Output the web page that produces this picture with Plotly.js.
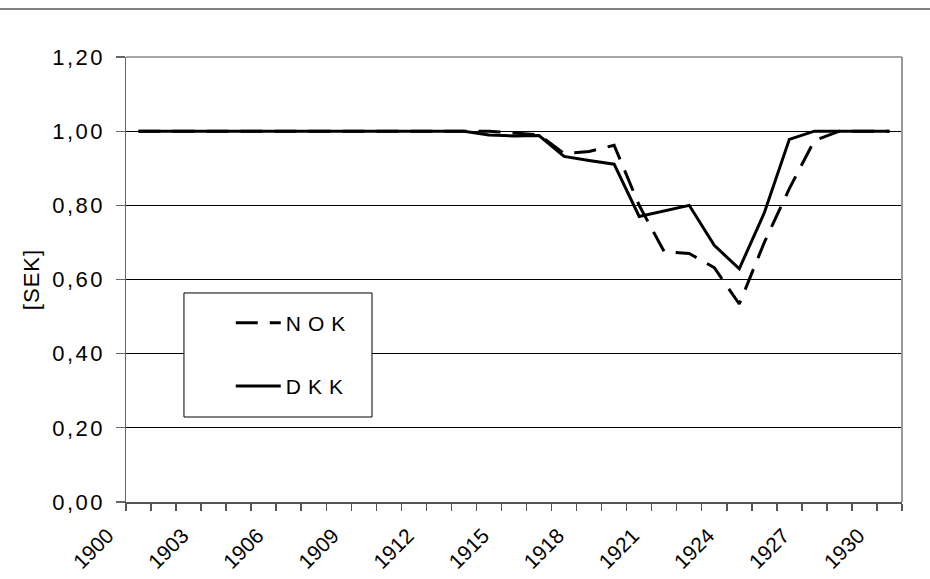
<!DOCTYPE html>
<html><head><meta charset="utf-8">
<script src="https://cdn.plot.ly/plotly-3.0.1.min.js"></script>
<style>
html,body{margin:0;padding:0;background:#fff;}
#chart{width:930px;height:579px;}
.ytick text{letter-spacing:2.5px;}
.legendtext{letter-spacing:7px;}
.g-ytitle text{letter-spacing:1px;}
</style></head><body><div id="chart"></div>
<script>
const years = [1900,1901,1902,1903,1904,1905,1906,1907,1908,1909,1910,1911,1912,1913,1914,1915,1916,1917,1918,1919,1920,1921,1922,1923,1924,1925,1926,1927,1928,1929,1930];
const nok = [1.00,1.00,1.00,1.00,1.00,1.00,1.00,1.00,1.00,1.00,1.00,1.00,1.00,1.00,1.00,0.995,0.99,0.94,0.945,0.962,0.80,0.675,0.67,0.632,0.534,0.70,0.845,0.975,1.00,1.00,1.00];
const dkk = [1.00,1.00,1.00,1.00,1.00,1.00,1.00,1.00,1.00,1.00,1.00,1.00,1.00,1.00,0.99,0.987,0.988,0.932,0.921,0.911,0.77,0.786,0.80,0.692,0.629,0.78,0.978,1.00,1.00,1.00,1.00];
const tickYears = [1900,1903,1906,1909,1912,1915,1918,1921,1924,1927,1930];
const tickLabels = ['1900','1903','1906','1909','1912','1915','1918','1921','1924','1927','1930'];
const yTicks = [0,0.2,0.4,0.6,0.8,1.0,1.2];
const seriesNames = ['NOK','DKK'];

const FONT = '"Liberation Sans", Arial, sans-serif';

const traces = [
  {x: years, y: nok, name: seriesNames[0], type: 'scatter', mode: 'lines', legendgroup: 'a',
   line: {color: '#000', width: 3, dash: '22px,12px'}},
  {x: years, y: dkk, name: seriesNames[1], type: 'scatter', mode: 'lines', legendgroup: 'b',
   line: {color: '#000', width: 3}}
];

const layout = {
  width: 930, height: 579,
  margin: {l: 126, r: 28, t: 57, b: 77},
  paper_bgcolor: '#fff', plot_bgcolor: '#fff',
  separators: ',.',
  font: {family: FONT, color: '#000', size: 22},
  showlegend: true,
  legend: {x: 0.135, y: 0.448, xanchor: 'left', yanchor: 'top', bgcolor: 'rgba(0,0,0,0)',
           borderwidth: 0, font: {family: FONT, size: 21, color: '#000'}, tracegroupgap: 33,
           itemwidth: 45},
  xaxis: {
    range: [1899.5, 1930.5], tickmode: 'array', tickvals: tickYears, ticktext: tickLabels,
    ticks: '', tickangle: -45, tickfont: {family: FONT, size: 21, color: '#000'},
    showgrid: false, zeroline: false, showline: true, linecolor: '#555', linewidth: 2,
    ticklabelshift: -31, ticklabelstandoff: 11,
    minor: {tickmode: 'linear', tick0: 1899.5, dtick: 1, ticks: 'outside', ticklen: 7,
            tickcolor: '#555', tickwidth: 1.5, showgrid: false}
  },
  yaxis: {
    range: [0, 1.2], tickmode: 'array', tickvals: yTicks, tickformat: '.2f',
    ticks: 'outside', ticklen: 9, tickcolor: '#666', tickwidth: 1.2,
    showgrid: true, gridcolor: '#000', gridwidth: 1,
    showline: true, linecolor: '#666', linewidth: 1.5, zeroline: false,
    tickfont: {family: FONT, size: 22, color: '#000'}, ticklabelstandoff: 6,
    title: {text: '[SEK]', font: {family: FONT, size: 22, color: '#000'}, standoff: 6}
  },
  shapes: [
    {type: 'line', xref: 'paper', yref: 'paper', x0: 0, x1: 1, y0: 1, y1: 1,
     line: {color: '#888', width: 1.5}, layer: 'above'},
    {type: 'line', xref: 'paper', yref: 'paper', x0: 1, x1: 1, y0: 0, y1: 1,
     line: {color: '#999', width: 2}, layer: 'above'},
    {type: 'line', xref: 'paper', yref: 'paper', x0: -0.17, x1: 1.04, y0: 1.108, y1: 1.108,
     line: {color: '#808080', width: 2}, layer: 'above'},
    {type: 'rect', xref: 'paper', yref: 'paper', x0: 0.0747, x1: 0.317, y0: 0.191, y1: 0.4697,
     fillcolor: '#fff', line: {color: '#000', width: 1}, layer: 'above'}
  ]
};

Plotly.newPlot('chart', traces, layout, {displayModeBar: false, staticPlot: true});
</script></body></html>
